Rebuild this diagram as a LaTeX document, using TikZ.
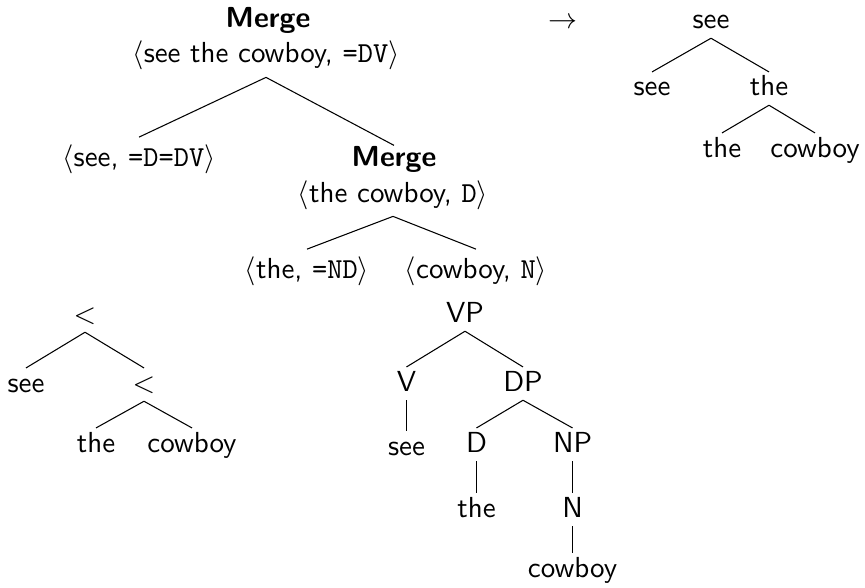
\documentclass[tikz,border=0pt]{standalone}
\usepackage{amsmath}
\usetikzlibrary{arrows}
\newcommand{\treefont}{\fontsize{10.95}{13.6}\selectfont\sffamily}

\begin{document}
\begin{tikzpicture}[-,x=0.378pt,y=-0.378pt,thin,
                    word node/.style={anchor=base,inner sep=2pt,font=\treefont,
                      text height=1.6ex,text depth=0.3ex},
                    pair node/.style={anchor=base,inner sep=2.5pt,font=\treefont},
                    op node/.style={anchor=base,inner sep=0pt,font=\treefont\bfseries}]
  \useasboundingbox (0,0) rectangle (865,587);

  % derivation
  \node[op node] (m1) at (268,28) {Merge};
  \node[pair node] (top) at (266,63) {$\langle$see the cowboy, \texttt{=DV}$\rangle$};
  \node[pair node] (see) at (139,166) {$\langle$see, \texttt{=D=DV}$\rangle$};
  \node[op node] (m2) at (394,166) {Merge};
  \node[pair node] (thecow) at (393,202) {$\langle$the cowboy, \texttt{D}$\rangle$};
  \node[pair node] (the) at (307,278) {$\langle$the, \texttt{=ND}$\rangle$};
  \node[pair node] (cow) at (476,278) {$\langle$cowboy, \texttt{N}$\rangle$};
  \path
    (top.south) edge (see.north)
                edge (m2.north)
    (thecow.south) edge (the.north)
                   edge (cow.north);

  % derived tree
  \node[anchor=base,font=\treefont] (arrow) at (563,29) {$\rightarrow$};
  \node[word node] (r) at (711,29) {see};
  \node[word node] (r1) at (652,96) {see};
  \node[word node] (r2) at (769,96) {the};
  \node[word node] (r21) at (722,157) {the};
  \node[word node] (r22) at (815,157) {cowboy};
  \path
    (r.south) edge (r1.north)
              edge (r2.north)
    (r2.south) edge (r21.north)
               edge (r22.north);

  % bare phrase structure
  \node[word node] (l) at (85,323) {$<$};
  \node[word node] (l1) at (26,392) {see};
  \node[word node] (l2) at (144,392) {$<$};
  \node[word node] (l21) at (96,452) {the};
  \node[word node] (l22) at (192,452) {cowboy};
  \path
    (l.south) edge (l1.north)
              edge (l2.north)
    (l2.south) edge (l21.north)
               edge (l22.north);

  % X-bar tree
  \node[word node] (vp) at (465,322) {VP};
  \node[word node] (v) at (406.5,391) {V};
  \node[word node] (vsee) at (406.5,455) {see};
  \node[word node] (dp) at (523,391) {DP};
  \node[word node] (d) at (476.5,452) {D};
  \node[word node] (dthe) at (476.5,517) {the};
  \node[word node] (np) at (572.5,452) {NP};
  \node[word node] (n) at (572.5,517) {N};
  \node[word node] (ncow) at (572.5,577) {cowboy};
  \path
    (vp.south) edge (v.north)
               edge (dp.north)
    (v.south) edge (vsee.north)
    (dp.south) edge (d.north)
               edge (np.north)
    (d.south) edge (dthe.north)
    (np.south) edge (n.north)
    (n.south) edge (ncow.north);
\end{tikzpicture}
\end{document}
